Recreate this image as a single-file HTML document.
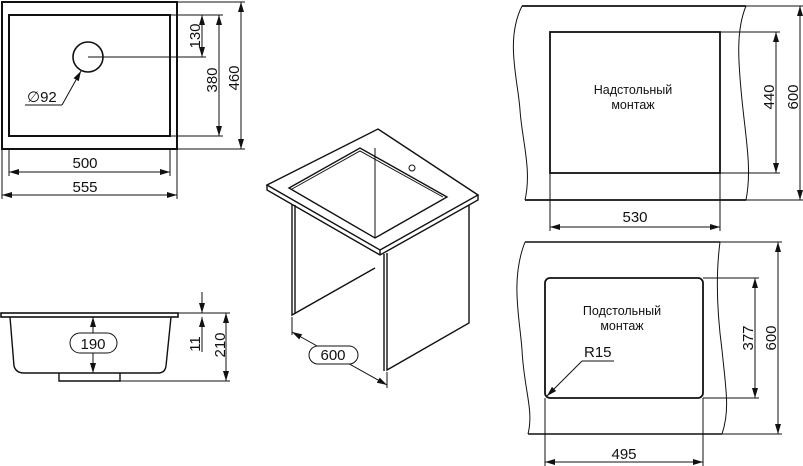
<!DOCTYPE html>
<html><head><meta charset="utf-8"><style>
html,body{margin:0;padding:0;background:#fff;width:803px;height:466px;overflow:hidden}
svg{display:block}
text{font-family:"Liberation Sans","DejaVu Sans",sans-serif;fill:#111}
</style></head><body>
<svg width="803" height="466" viewBox="0 0 803 466" xmlns="http://www.w3.org/2000/svg">
<defs>
<marker id="a" viewBox="0 0 10 6" refX="10" refY="3" markerWidth="10" markerHeight="6" orient="auto-start-reverse" markerUnits="userSpaceOnUse"><path d="M0,0 L10,3 L0,6 z" fill="#111"/></marker>
</defs>
<g fill="none" stroke="#111" stroke-width="1">
<rect x="2" y="2" width="175" height="147" stroke-width="2"/>
<rect x="9" y="15" width="161" height="121" stroke-width="2"/>
<circle cx="88" cy="57" r="15" stroke-width="1.6"/>
<line x1="88" y1="57" x2="206" y2="57"/>
<line x1="170" y1="15" x2="223" y2="15"/>
<line x1="170" y1="136" x2="223" y2="136"/>
<line x1="177" y1="2" x2="245" y2="2"/>
<line x1="177" y1="149" x2="245" y2="149"/>
<line x1="202" y1="15" x2="202" y2="57" marker-start="url(#a)" marker-end="url(#a)"/>
<line x1="219" y1="15" x2="219" y2="136" marker-start="url(#a)" marker-end="url(#a)"/>
<line x1="241" y1="2" x2="241" y2="149" marker-start="url(#a)" marker-end="url(#a)"/>
<polyline points="25,105 62,105" />
<line x1="62" y1="105" x2="81" y2="71" marker-end="url(#a)"/>
<line x1="9" y1="149" x2="9" y2="176"/>
<line x1="170" y1="149" x2="170" y2="176"/>
<line x1="2" y1="149" x2="2" y2="199"/>
<line x1="177" y1="149" x2="177" y2="199"/>
<line x1="9" y1="172" x2="170" y2="172" marker-start="url(#a)" marker-end="url(#a)"/>
<line x1="2" y1="195" x2="177" y2="195" marker-start="url(#a)" marker-end="url(#a)"/>
<rect x="1" y="313" width="177" height="4" stroke-width="1.6"/>
<path d="M10,317 L14,366 Q16,373 24,373 L158,373 Q165,373 166,366 L171,317" stroke-width="1.4"/>
<path d="M59,373 L59,381 L120,381 L120,373" stroke-width="1.4"/>
<line x1="93" y1="317" x2="93" y2="373" marker-start="url(#a)" marker-end="url(#a)"/>
<rect x="70" y="333" width="47" height="20" rx="10" fill="#fff"/>
<line x1="178" y1="313" x2="230" y2="313"/>
<line x1="120" y1="381" x2="230" y2="381"/>
<line x1="202" y1="292" x2="202" y2="313" marker-end="url(#a)"/>
<line x1="202" y1="352" x2="202" y2="317" marker-end="url(#a)"/>
<line x1="226" y1="313" x2="226" y2="381" marker-start="url(#a)" marker-end="url(#a)"/>
<path d="M267,185 L378,129 L478,195 L380,250 Z" stroke-width="1.4"/>
<path d="M267,185 L267,190 L380,255 L478,200 L478,195 M380,250 L380,255" stroke-width="1.4"/>
<path d="M289,188 L360,148 L447,197 L375,238 Z" stroke-width="1.4"/>
<path d="M292,189 L360,151 L443,197" />
<line x1="375" y1="148" x2="375" y2="238"/>
<circle cx="412" cy="168" r="3"/>
<path d="M292,205 L292,315 L375,268 M295,205 L295,314" stroke-width="1.4"/>
<path d="M387,253 L387,370 L469,323 L469,205 M384,254 L384,371" stroke-width="1.4"/>
<line x1="292" y1="317" x2="292" y2="335"/>
<line x1="387" y1="372" x2="387" y2="388"/>
<line x1="292" y1="332" x2="387" y2="385" marker-start="url(#a)" marker-end="url(#a)"/>
<rect x="309" y="346" width="49" height="18" rx="9" fill="#fff"/>
<path d="M522,6 L746,6" stroke-width="1.8"/>
<path d="M525,200 L746,200" stroke-width="1.8"/>
<path d="M522,6 C505,40 518,80 520,110 C522,140 532,170 525,200"/>
<path d="M746,6 C736,30 738,60 742,100 C746,140 752,170 746,200"/>
<rect x="550" y="32" width="170" height="141" stroke-width="1.8"/>
<line x1="720" y1="32" x2="780" y2="32"/>
<line x1="720" y1="173" x2="780" y2="173"/>
<line x1="746" y1="6" x2="803" y2="6"/>
<line x1="746" y1="200" x2="803" y2="200"/>
<line x1="776" y1="32" x2="776" y2="173" marker-start="url(#a)" marker-end="url(#a)"/>
<line x1="800" y1="6" x2="800" y2="200" marker-start="url(#a)" marker-end="url(#a)"/>
<line x1="550" y1="173" x2="550" y2="231"/>
<line x1="720" y1="173" x2="720" y2="231"/>
<line x1="550" y1="227" x2="720" y2="227" marker-start="url(#a)" marker-end="url(#a)"/>
<path d="M525,242 L720,242" stroke-width="1.6"/>
<path d="M528,434 L722,434" stroke-width="1.6"/>
<path d="M525,242 C510,280 520,320 522,350 C524,390 534,410 528,434"/>
<path d="M720,242 C715,280 718,320 722,350 C726,390 730,410 722,434"/>
<rect x="545" y="278" width="158" height="120" rx="5" stroke-width="1.8"/>
<line x1="703" y1="278" x2="759" y2="278"/>
<line x1="703" y1="398" x2="759" y2="398"/>
<line x1="720" y1="242" x2="782" y2="242"/>
<line x1="722" y1="434" x2="782" y2="434"/>
<line x1="755" y1="278" x2="755" y2="398" marker-start="url(#a)" marker-end="url(#a)"/>
<line x1="778" y1="242" x2="778" y2="434" marker-start="url(#a)" marker-end="url(#a)"/>
<line x1="614" y1="361" x2="582" y2="361"/>
<line x1="582" y1="361" x2="547" y2="396" marker-end="url(#a)"/>
<line x1="545" y1="398" x2="545" y2="466"/>
<line x1="703" y1="398" x2="703" y2="466"/>
<line x1="545" y1="462" x2="703" y2="462" marker-start="url(#a)" marker-end="url(#a)"/>
</g>
<g font-size="15">
<text x="196" y="36" text-anchor="middle" transform="rotate(-90 196 36)" dominant-baseline="middle">130</text>
<text x="213" y="80" text-anchor="middle" transform="rotate(-90 213 80)" dominant-baseline="middle">380</text>
<text x="235" y="78" text-anchor="middle" transform="rotate(-90 235 78)" dominant-baseline="middle">460</text>
<text x="27" y="102">∅92</text>
<text x="85" y="168" text-anchor="middle">500</text>
<text x="85" y="192" text-anchor="middle">555</text>
<text x="93" y="349" text-anchor="middle">190</text>
<text x="196" y="344" text-anchor="middle" transform="rotate(-90 196 344)" dominant-baseline="middle">11</text>
<text x="221" y="345" text-anchor="middle" transform="rotate(-90 221 345)" dominant-baseline="middle">210</text>
<text x="333" y="360" text-anchor="middle">600</text>
<text x="770" y="97" text-anchor="middle" transform="rotate(-90 770 97)" dominant-baseline="middle">440</text>
<text x="794" y="97" text-anchor="middle" transform="rotate(-90 794 97)" dominant-baseline="middle">600</text>
<text x="635" y="222" text-anchor="middle">530</text>
<text x="749" y="338" text-anchor="middle" transform="rotate(-90 749 338)" dominant-baseline="middle">377</text>
<text x="772" y="338" text-anchor="middle" transform="rotate(-90 772 338)" dominant-baseline="middle">600</text>
<text x="624" y="459" text-anchor="middle">495</text>
<text x="584" y="357">R15</text>
</g>
<g font-size="12.5" text-anchor="middle">
<text x="633" y="94">Надстольный</text>
<text x="633" y="109">монтаж</text>
<text x="622" y="315">Подстольный</text>
<text x="622" y="330">монтаж</text>
</g>
</svg>
</body></html>
